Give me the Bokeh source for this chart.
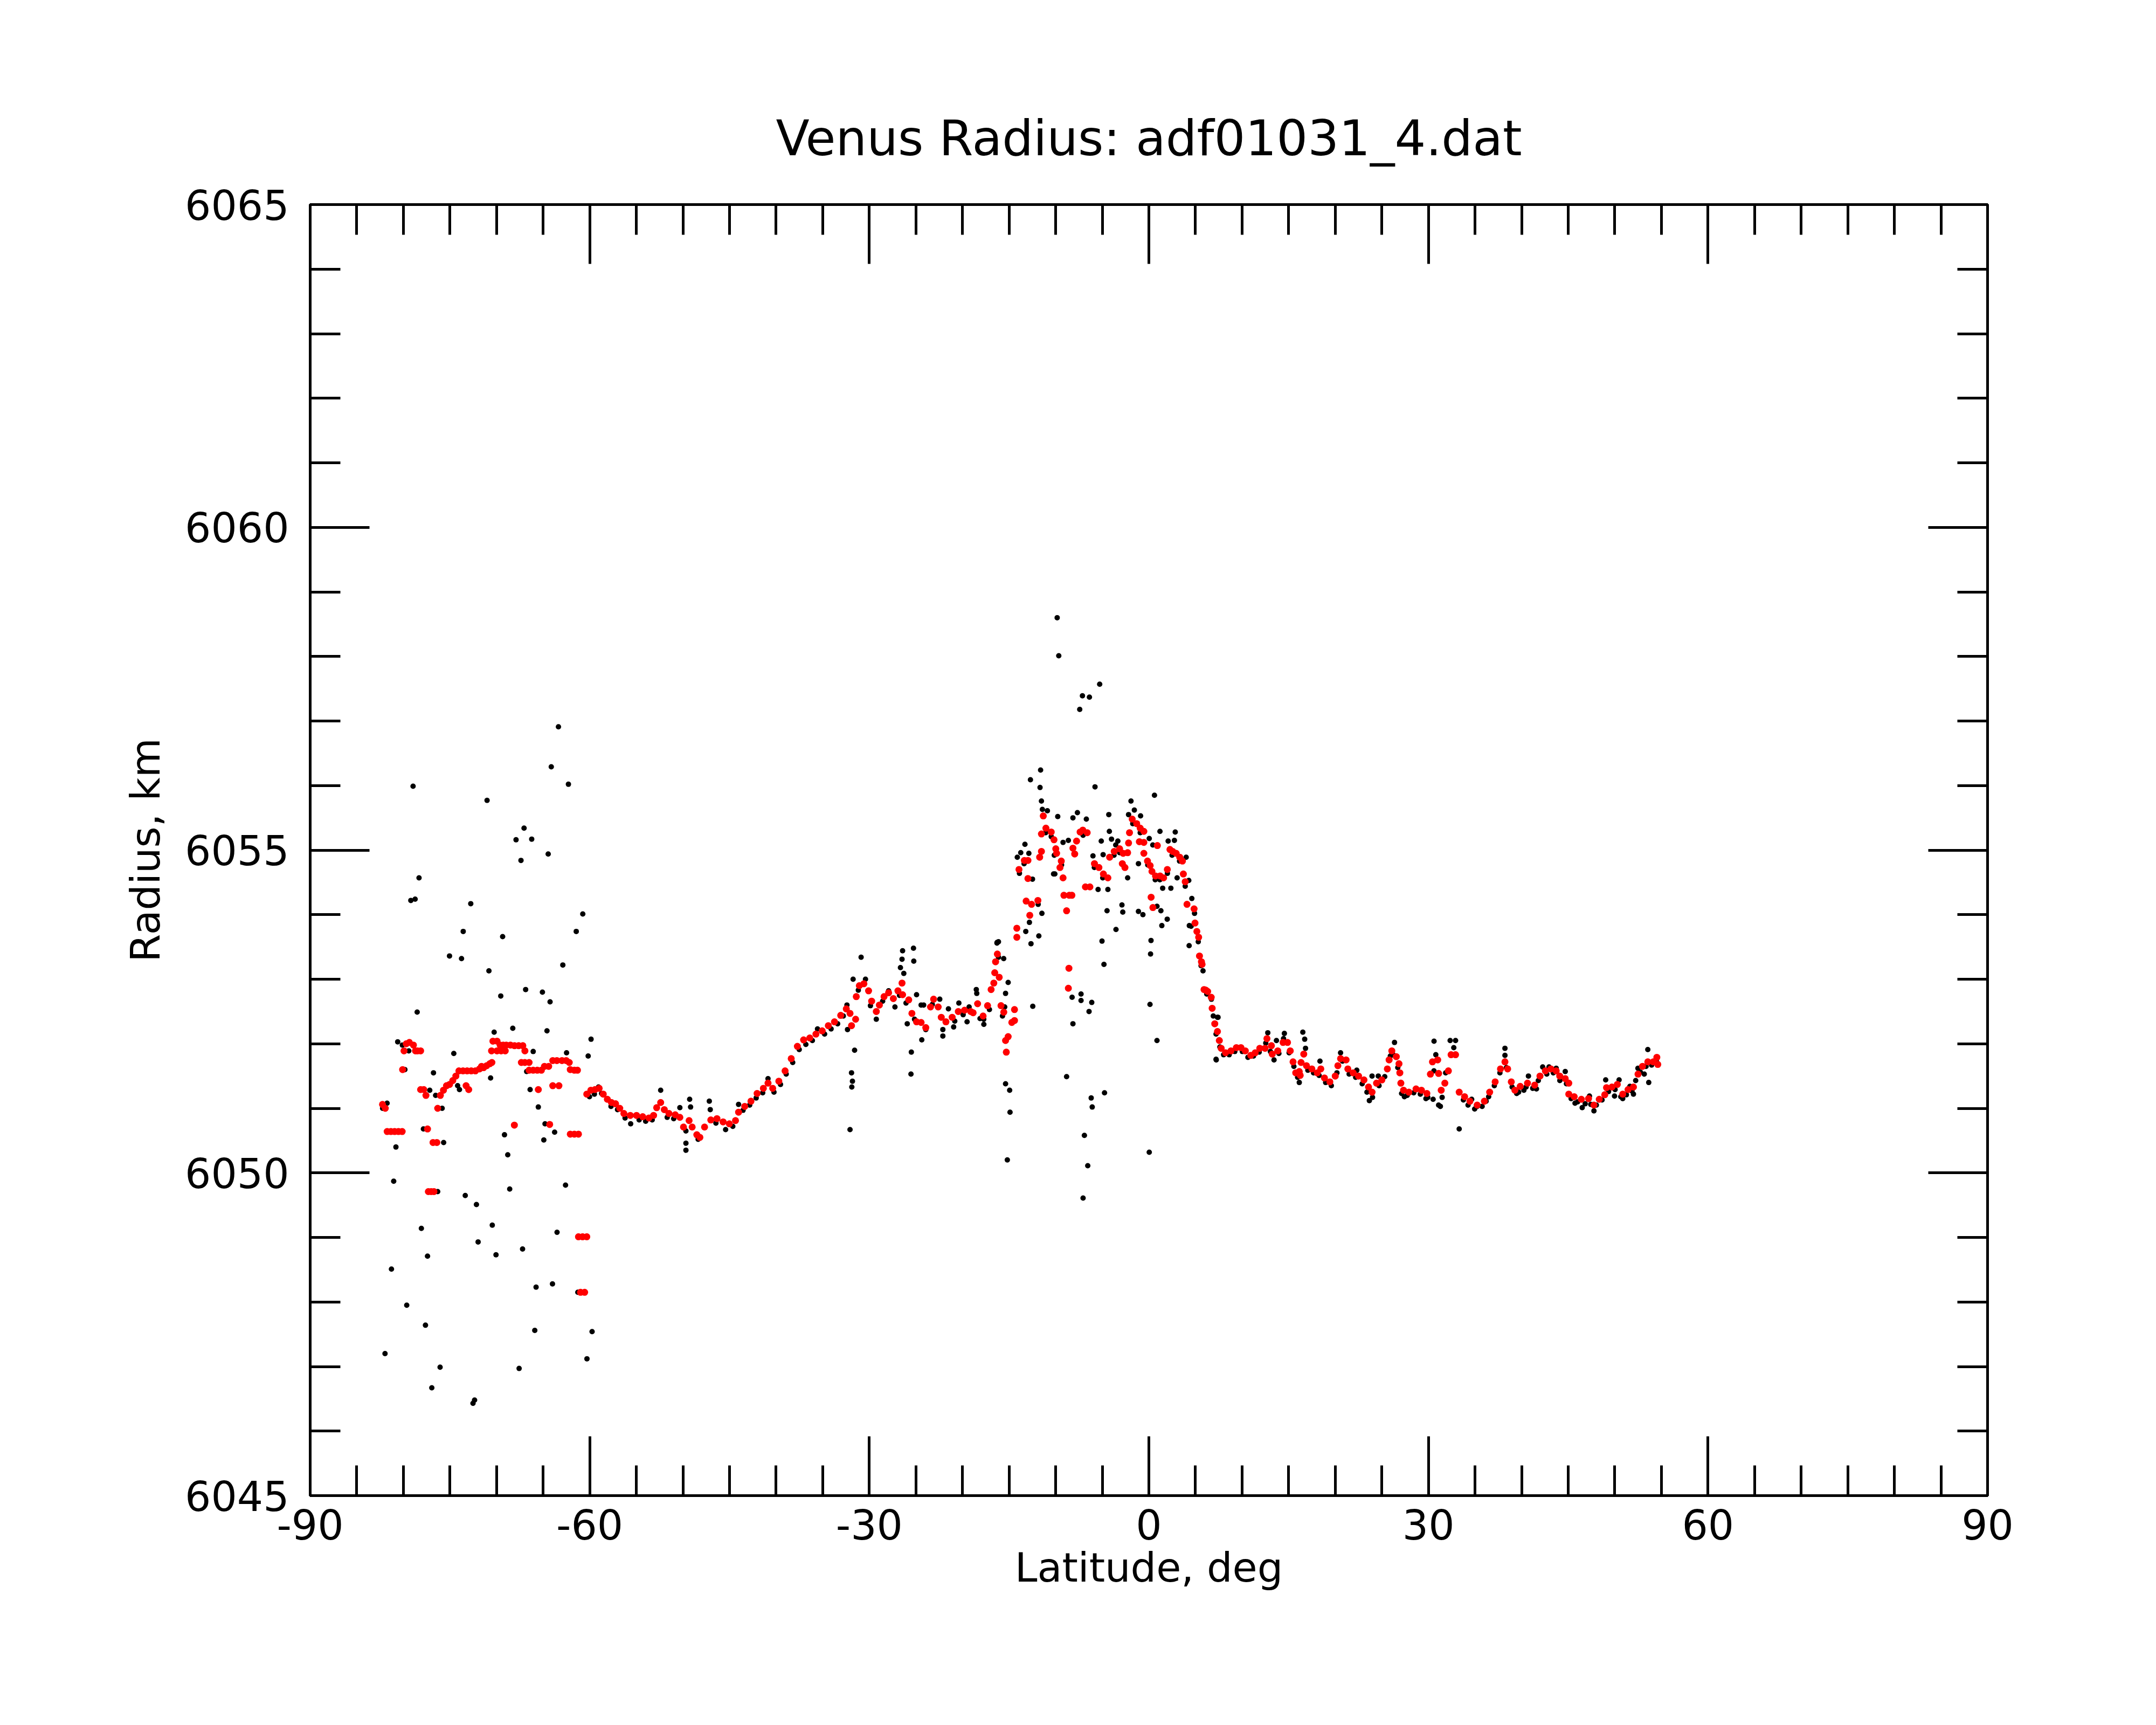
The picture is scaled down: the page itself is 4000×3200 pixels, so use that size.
from bokeh.plotting import figure
from bokeh.models import Range1d, LinearAxis, FixedTicker, ColumnDataSource, CustomJSTickFormatter
from bokeh.embed import file_html
from bokeh.resources import INLINE

# ---------------- data: (latitude deg, radius km) ----------------
black_south_outliers = [
    (-63.36, 6056.91), (-64.13, 6056.29), (-62.29, 6056.02), (-78.96, 6055.99), (-71.02, 6055.77),
    (-67.05, 6055.34), (-67.91, 6055.16), (-66.23, 6055.17), (-67.38, 6054.84), (-64.46, 6054.94),
    (-78.32, 6054.57), (-79.20, 6054.22), (-78.74, 6054.24), (-72.77, 6054.17), (-60.75, 6054.01),
    (-73.58, 6053.74), (-69.35, 6053.66), (-61.45, 6053.74), (-75.05, 6053.36), (-73.76, 6053.32),
    (-62.89, 6053.22), (-70.82, 6053.13), (-69.55, 6052.74), (-66.88, 6052.84), (-65.08, 6052.80),
    (-64.26, 6052.65), (-78.52, 6052.49), (-68.26, 6052.24), (-70.26, 6052.18), (-64.59, 6052.20),
    (-59.86, 6052.07), (-80.61, 6052.03), (-80.11, 6051.98), (-79.42, 6051.89), (-74.59, 6051.85),
    (-60.17, 6051.81), (-62.49, 6051.86), (-66.07, 6051.88), (-79.84, 6051.60), (-76.77, 6051.55),
    (-70.64, 6051.47), (-66.77, 6051.57), (-74.18, 6051.35), (-73.98, 6051.29), (-77.17, 6051.28),
    (-66.40, 6051.29), (-65.52, 6051.02), (-81.75, 6051.08), (-76.54, 6051.20), (-75.84, 6051.00),
    (-77.85, 6050.68), (-64.80, 6050.76), (-63.77, 6050.63), (-64.93, 6050.51), (-80.80, 6050.40),
    (-75.68, 6050.47), (-69.15, 6050.59), (-68.80, 6050.28), (-81.04, 6049.87), (-76.32, 6049.71),
    (-68.59, 6049.75), (-62.60, 6049.81), (-73.36, 6049.65), (-72.16, 6049.51), (-78.07, 6049.14),
    (-70.46, 6049.19), (-63.51, 6049.08), (-71.98, 6048.93), (-70.06, 6048.73), (-67.21, 6048.82),
    (-77.41, 6048.71), (-81.28, 6048.51), (-65.76, 6048.23), (-64.00, 6048.28), (-61.28, 6048.15),
    (-79.64, 6047.95), (-77.63, 6047.64), (-65.90, 6047.56), (-59.75, 6047.54), (-81.97, 6047.20),
    (-60.30, 6047.12), (-76.06, 6046.99), (-67.58, 6046.97), (-76.95, 6046.67), (-72.53, 6046.43),
    (-72.36, 6046.48), (-82.23, 6051.00), (-59.50, 6051.22), (-59.06, 6051.33),
]

black_equator_outliers = [
    (-32.07, 6050.67), (-31.91, 6051.55), (-31.81, 6051.42), (-31.88, 6051.33), (-31.58, 6051.90),
    (-30.88, 6053.34), (-30.41, 6053.00), (-31.74, 6053.00), (-26.43, 6053.44), (-26.49, 6053.31),
    (-26.66, 6053.18), (-26.30, 6053.09), (-25.26, 6053.48), (-25.23, 6053.28), (-25.53, 6051.53),
    (-25.49, 6051.87), (-24.44, 6052.60), (-24.37, 6052.06), (-25.93, 6052.31), (-22.11, 6052.12),
    (-20.95, 6052.26), (-19.51, 6052.34), (-16.14, 6053.58), (-12.82, 6053.88), (-11.81, 6053.67),
    (-12.65, 6053.55), (-13.21, 6053.74), (-11.48, 6054.02), (-10.23, 6054.63),
    (-9.84, 6058.60), (-9.67, 6058.01), (-5.28, 6057.57), (-7.13, 6057.39), (-6.38, 6057.37),
    (-7.42, 6057.18), (-11.62, 6056.24), (-12.71, 6056.09), (-11.68, 6055.97), (-5.78, 6055.98),
    (-11.53, 6055.76), (0.60, 6055.85), (-1.92, 6055.76), (-11.43, 6055.63), (-10.89, 6055.61),
    (-9.78, 6055.52), (-4.30, 6055.55), (-7.67, 6055.58), (-8.15, 6055.50), (-6.71, 6055.48),
    (-2.18, 6055.55), (-1.56, 6055.62), (-0.89, 6055.53), (-13.30, 6055.09), (-14.12, 6054.89),
    (-13.75, 6054.96), (-12.88, 6054.95), (-12.49, 6054.55), (-10.09, 6054.63), (-9.21, 6055.12),
    (-8.64, 6055.15), (-10.15, 6054.92), (-6.00, 6054.91), (-4.91, 6054.93), (-5.11, 6055.14),
    (-4.24, 6055.29), (-4.01, 6055.17), (-3.33, 6055.14), (-3.56, 6055.08), (-1.12, 6054.79),
    (-2.28, 6054.57), (-5.45, 6054.39), (-4.40, 6054.39), (-4.49, 6054.06), (-2.89, 6054.15),
    (-2.80, 6054.04), (-3.53, 6053.77), (-5.03, 6053.59), (-4.82, 6053.23), (0.04, 6055.18),
    (0.42, 6055.08), (1.19, 6055.29), (2.83, 6055.28), (2.07, 6055.14), (2.74, 6055.15),
    (1.48, 6054.41), (2.36, 6054.41), (1.97, 6053.93), (1.39, 6053.83), (0.23, 6053.60),
    (0.18, 6053.39), (1.29, 6054.06), (0.87, 6054.13), (-1.12, 6054.05), (-0.64, 6054.00),
    (3.03, 6054.57), (4.00, 6054.89), (4.28, 6054.53), (4.61, 6054.25), (4.34, 6053.83),
    (4.53, 6053.82), (4.32, 6053.52), (7.42, 6052.41), (7.21, 6051.76), (0.12, 6052.61),
    (0.87, 6052.05), (0.04, 6050.32), (-12.46, 6052.58), (-8.15, 6052.31), (-8.83, 6051.49),
    (-8.24, 6052.72), (-7.28, 6052.77), (-7.28, 6052.67), (-6.13, 6052.64), (-6.42, 6052.50),
    (-6.19, 6051.16), (-6.08, 6051.02), (-4.76, 6051.24), (-6.92, 6050.58), (-6.56, 6050.11),
    (-7.06, 6049.61), (-15.19, 6050.20), (-15.38, 6051.38), (-14.94, 6051.28), (-14.90, 6050.94),
    (-16.29, 6053.57), (-15.58, 6053.32), (-15.10, 6052.95), (-15.38, 6052.78), (-18.47, 6052.78),
    (-17.71, 6052.30),
]

black_north_outliers = [
    (7.36, 6052.41), (7.23, 6051.75), (12.76, 6052.17), (14.54, 6052.16), (13.69, 6052.05),
    (13.43, 6051.75), (16.52, 6052.18), (16.72, 6052.07), (16.81, 6051.93), (16.14, 6051.40),
    (18.36, 6051.73), (20.57, 6051.86), (22.31, 6051.59), (23.66, 6051.12), (23.95, 6051.50),
    (24.62, 6051.50), (26.36, 6052.02), (27.42, 6051.18), (30.60, 6052.04), (30.50, 6051.14),
    (31.09, 6051.05), (30.79, 6051.83), (30.59, 6051.58), (31.28, 6051.03), (31.47, 6051.17),
    (32.33, 6052.05), (32.91, 6052.05), (32.72, 6051.94), (31.85, 6051.55), (33.30, 6050.68),
    (38.21, 6051.93), (38.21, 6051.82), (40.73, 6051.50), (42.26, 6051.64), (42.94, 6051.64),
    (43.71, 6051.62), (44.68, 6051.57), (41.59, 6051.30), (39.47, 6051.23), (40.24, 6051.28),
    (45.73, 6051.08), (46.50, 6051.01), (47.76, 6050.96), (47.28, 6051.19), (49.02, 6051.44),
    (50.46, 6051.44), (49.97, 6051.19), (50.85, 6051.15), (52.00, 6051.22), (51.62, 6051.34),
    (53.54, 6051.91), (53.64, 6051.40), (52.48, 6051.62), (53.16, 6051.53), (34.64, 6051.14),
    (35.23, 6051.03), (36.19, 6051.11), (29.73, 6051.15),
]

black_main_trace = [
    (-60.03, 6051.18), (-58.73, 6051.23), (-57.72, 6051.03), (-57.02, 6050.98), (-56.21, 6050.85),
    (-55.61, 6050.76), (-54.70, 6050.82), (-54.00, 6050.80), (-53.30, 6050.82), (-52.39, 6051.28),
    (-51.69, 6050.86), (-50.99, 6050.84), (-50.33, 6051.01), (-49.68, 6050.65), (-49.68, 6050.46),
    (-49.68, 6050.35), (-49.28, 6051.14), (-49.18, 6051.02), (-48.37, 6050.52), (-47.17, 6051.11),
    (-47.07, 6050.98), (-46.46, 6050.77), (-45.42, 6050.67), (-44.65, 6050.72), (-44.03, 6051.06),
    (-43.55, 6050.97), (-42.84, 6051.05), (-42.14, 6051.16), (-41.44, 6051.24), (-40.87, 6051.46),
    (-40.23, 6051.25), (-39.53, 6051.37), (-38.92, 6051.53), (-38.22, 6051.71), (-37.52, 6051.91),
    (-36.81, 6051.99), (-36.11, 6052.05), (-35.56, 6052.23), (-34.80, 6052.15), (-34.10, 6052.23),
    (-33.40, 6052.31), (-32.79, 6052.43), (-32.40, 6052.60), (-32.34, 6052.22), (-31.18, 6052.83),
    (-29.88, 6052.59), (-29.25, 6052.38), (-28.57, 6052.66), (-27.93, 6052.82), (-27.25, 6052.57),
    (-26.76, 6052.75), (-26.06, 6052.63), (-24.93, 6052.76), (-25.15, 6052.38), (-24.17, 6052.60),
    (-23.94, 6052.22), (-23.24, 6052.61), (-22.44, 6052.69), (-22.11, 6052.22), (-21.51, 6052.54),
    (-20.83, 6052.35), (-20.39, 6052.63), (-19.93, 6052.45), (-19.29, 6052.57), (-18.52, 6052.84),
    (-18.12, 6052.39), (-17.72, 6052.38), (-17.11, 6052.53), (-16.30, 6053.56), (-16.14, 6053.34),
    (-15.47, 6052.57), (-15.71, 6052.43),
    (-13.89, 6054.64), (-13.39, 6054.79), (-11.88, 6054.16), (-11.08, 6055.27), (-10.48, 6055.21),
    (-9.37, 6054.77), (-7.06, 6055.23), (-5.85, 6054.73), (-4.95, 6054.57), (-3.74, 6054.92),
    (-3.14, 6054.96), (-1.73, 6055.41), (-0.93, 6055.27), (-0.12, 6054.77), (0.68, 6054.54),
    (1.18, 6054.54), (1.99, 6054.64), (2.49, 6054.92), (3.29, 6054.83), (3.90, 6054.44),
    (4.90, 6054.02), (5.30, 6053.58), (5.60, 6053.21), (6.71, 6052.69), (7.21, 6052.15),
    (5.81, 6053.13), (6.21, 6052.77), (6.91, 6052.43), (7.62, 6051.95), (8.02, 6051.83),
    (8.62, 6051.83), (9.22, 6051.88), (10.03, 6051.88), (10.63, 6051.79), (11.23, 6051.81),
    (11.84, 6051.87), (12.54, 6052.01), (13.04, 6051.88), (13.95, 6051.85), (14.45, 6052.08),
    (15.05, 6051.86), (15.56, 6051.65), (15.96, 6051.48), (17.06, 6051.59), (17.67, 6051.55),
    (18.27, 6051.51), (18.97, 6051.40), (19.58, 6051.35), (20.18, 6051.55), (20.78, 6051.73),
    (21.49, 6051.53), (22.19, 6051.48), (22.89, 6051.38), (23.40, 6051.25), (24.00, 6051.17),
    (24.70, 6051.35), (25.31, 6051.49), (25.91, 6051.81), (26.21, 6051.83), (26.71, 6051.63),
    (27.12, 6051.23), (27.72, 6051.20), (28.42, 6051.24), (29.13, 6051.22), (29.93, 6051.17),
    (33.75, 6051.13), (34.25, 6051.05), (34.96, 6050.99), (35.76, 6051.03), (36.46, 6051.18),
    (37.07, 6051.35), (37.67, 6051.55), (38.37, 6051.63), (38.98, 6051.33), (39.68, 6051.25),
    (40.48, 6051.33), (41.19, 6051.31), (41.79, 6051.43), (42.70, 6051.53), (43.40, 6051.55),
    (44.10, 6051.43), (44.81, 6051.38), (45.31, 6051.15), (46.01, 6051.10), (46.82, 6051.07),
    (47.42, 6051.06), (48.02, 6051.05), (48.63, 6051.13), (49.33, 6051.26), (50.03, 6051.29),
    (50.64, 6051.18), (51.24, 6051.21), (51.84, 6051.27), (52.24, 6051.43), (52.75, 6051.56),
    (53.35, 6051.65), (53.95, 6051.67), (54.46, 6051.73),
]

red_south_scatter = [
    (-82.24, 6051.06), (-81.94, 6051.00), (-81.74, 6050.64), (-81.34, 6050.64), (-80.94, 6050.64),
    (-80.53, 6050.64), (-80.13, 6050.64), (-80.08, 6051.60), (-79.93, 6051.89), (-79.69, 6052.00),
    (-79.36, 6052.02), (-78.92, 6051.98), (-78.70, 6051.89), (-78.48, 6051.89), (-78.15, 6051.89),
    (-78.15, 6051.29), (-77.81, 6051.29), (-77.58, 6051.20), (-77.41, 6050.68), (-77.32, 6049.71),
    (-77.02, 6049.71), (-76.72, 6049.71), (-76.82, 6050.47), (-76.41, 6050.47), (-76.32, 6051.00),
    (-76.03, 6051.20), (-75.70, 6051.28), (-75.37, 6051.35), (-75.04, 6051.37), (-74.70, 6051.43),
    (-74.37, 6051.50), (-74.04, 6051.58), (-73.60, 6051.58), (-73.16, 6051.58), (-72.72, 6051.58),
    (-72.27, 6051.58), (-71.83, 6051.61), (-71.61, 6051.65), (-71.39, 6051.63), (-71.06, 6051.66),
    (-70.73, 6051.69), (-70.50, 6051.71), (-73.27, 6051.35), (-72.99, 6051.29), (-70.54, 6051.89),
    (-70.39, 6052.04), (-69.95, 6052.04), (-69.62, 6051.98), (-69.29, 6051.98), (-68.96, 6051.98),
    (-68.51, 6051.98), (-68.07, 6051.97), (-67.63, 6051.97), (-67.18, 6051.97), (-66.96, 6051.89),
    (-69.95, 6051.89), (-69.51, 6051.89), (-69.07, 6051.89), (-68.09, 6050.74), (-67.34, 6051.71),
    (-66.96, 6051.71), (-66.51, 6051.71), (-66.51, 6051.59), (-66.07, 6051.59), (-65.63, 6051.59),
    (-65.19, 6051.59), (-64.86, 6051.65), (-64.41, 6051.65), (-65.52, 6051.29), (-64.30, 6050.75),
    (-63.97, 6051.35), (-63.31, 6051.35), (-63.97, 6051.74), (-63.53, 6051.74), (-62.98, 6051.74),
    (-62.53, 6051.74), (-62.20, 6051.71), (-62.09, 6051.60), (-61.65, 6051.59), (-61.32, 6051.59),
    (-62.09, 6050.60), (-61.65, 6050.60), (-61.21, 6050.60), (-61.21, 6049.01), (-60.77, 6049.01),
    (-60.32, 6049.01), (-60.99, 6048.15), (-60.55, 6048.15),
]

red_main_south = [
    (-60.32, 6051.22), (-59.88, 6051.28), (-59.44, 6051.29), (-58.99, 6051.31), (-58.55, 6051.22),
    (-58.11, 6051.14), (-57.67, 6051.09), (-57.23, 6051.07), (-56.78, 6051.00), (-56.34, 6050.92),
    (-55.65, 6050.89), (-54.98, 6050.89), (-54.32, 6050.87), (-53.65, 6050.85), (-53.15, 6050.89),
    (-52.82, 6051.01), (-52.39, 6051.09), (-52.00, 6050.98), (-51.50, 6050.92), (-50.83, 6050.90),
    (-50.33, 6050.86), (-49.94, 6050.71), (-49.34, 6050.81), (-49.01, 6050.71), (-48.51, 6050.59),
    (-48.18, 6050.55), (-47.68, 6050.71), (-47.01, 6050.82), (-46.35, 6050.84), (-45.69, 6050.79),
    (-45.02, 6050.76), (-44.36, 6050.81), (-44.03, 6050.94), (-43.37, 6051.03), (-42.70, 6051.11),
    (-42.04, 6051.23), (-41.37, 6051.31), (-40.87, 6051.39), (-40.37, 6051.31), (-39.71, 6051.42),
    (-39.04, 6051.58), (-38.38, 6051.77), (-37.72, 6051.96), (-37.05, 6052.06), (-36.39, 6052.09),
    (-35.73, 6052.15), (-35.06, 6052.20), (-34.40, 6052.28), (-33.74, 6052.34), (-33.07, 6052.44),
    (-32.47, 6052.54), (-32.07, 6052.47), (-31.91, 6052.28), (-31.47, 6052.38), (-31.40, 6052.73),
    (-31.07, 6052.90), (-30.58, 6052.93), (-30.08, 6052.82), (-29.75, 6052.66), (-29.25, 6052.50),
    (-28.92, 6052.60), (-28.42, 6052.73), (-27.93, 6052.79), (-27.42, 6052.70), (-26.93, 6052.82),
    (-26.49, 6052.94), (-26.43, 6052.76), (-25.77, 6052.68), (-25.43, 6052.47), (-24.93, 6052.34),
    (-24.44, 6052.33), (-23.94, 6052.25), (-23.43, 6052.57), (-23.10, 6052.69), (-22.61, 6052.57),
    (-22.28, 6052.41), (-21.78, 6052.34), (-21.11, 6052.41), (-20.45, 6052.50), (-19.78, 6052.52),
    (-19.12, 6052.50), (-18.86, 6052.48), (-18.38, 6052.62), (-17.79, 6052.43), (-17.31, 6052.59),
    (-16.93, 6052.84), (-16.64, 6052.94), (-16.54, 6053.10), (-16.45, 6053.27), (-16.26, 6053.39),
    (-16.06, 6053.03), (-15.87, 6052.59), (-15.57, 6052.49), (-15.38, 6052.05), (-15.10, 6052.11),
    (-15.30, 6051.87), (-14.71, 6052.33), (-14.42, 6052.53), (-14.42, 6052.36),
]

red_equator = [
    (-14.17, 6053.79), (-14.17, 6053.65), (-13.94, 6054.70), (-13.36, 6054.84), (-12.98, 6054.84),
    (-12.98, 6054.56), (-13.17, 6054.21), (-12.59, 6054.16), (-11.91, 6054.22), (-12.78, 6053.99),
    (-11.53, 6054.98), (-11.72, 6054.89), (-11.33, 6055.53), (-11.53, 6055.25), (-11.05, 6055.34),
    (-10.48, 6055.28), (-10.18, 6055.16), (-9.99, 6055.02), (-9.90, 6054.95), (-9.40, 6054.83),
    (-9.54, 6054.73), (-9.21, 6054.57), (-9.12, 6054.30), (-8.54, 6054.30), (-8.26, 6054.30),
    (-8.83, 6054.06), (-8.58, 6053.17), (-8.64, 6052.86), (-7.96, 6054.94), (-8.15, 6055.03),
    (-7.76, 6055.14), (-7.09, 6055.31), (-7.38, 6055.28), (-6.62, 6055.27), (-6.81, 6054.43),
    (-6.33, 6054.43), (-5.84, 6054.79), (-5.36, 6054.73), (-4.88, 6054.63), (-4.40, 6054.57),
    (-4.21, 6054.89), (-3.72, 6054.98), (-3.14, 6055.02), (-2.76, 6054.95), (-2.28, 6054.96),
    (-2.85, 6054.79), (-2.57, 6054.73), (-2.18, 6055.11), (-2.08, 6055.27), (-1.79, 6055.48),
    (-1.31, 6055.41), (-0.93, 6055.34), (-0.54, 6055.29), (-1.02, 6055.13), (-0.54, 6055.12),
    (-0.54, 6054.95), (-0.15, 6054.83), (0.14, 6054.76), (0.33, 6054.67), (0.71, 6054.60),
    (1.20, 6054.60), (1.58, 6054.57), (1.98, 6054.70), (0.24, 6054.27), (0.43, 6054.11),
    (0.91, 6055.07), (2.26, 6055.01), (2.55, 6054.98), (2.93, 6054.95), (3.31, 6054.89),
    (3.60, 6054.83), (3.70, 6054.63), (3.90, 6054.51), (4.09, 6054.16), (4.85, 6054.09),
    (4.95, 6053.87), (5.15, 6053.74), (5.34, 6053.65), (5.43, 6053.36), (5.64, 6053.27),
    (5.71, 6053.23),
]

red_main_north = [
    (5.92, 6052.84), (6.11, 6052.83), (6.31, 6052.81), (6.69, 6052.72), (6.79, 6052.55),
    (7.07, 6052.31), (7.36, 6052.19), (7.56, 6052.05), (7.76, 6051.93), (8.23, 6051.86),
    (8.81, 6051.89), (9.39, 6051.94), (9.88, 6051.94), (10.35, 6051.89), (10.93, 6051.82),
    (11.41, 6051.86), (11.90, 6051.93), (12.47, 6051.93), (12.67, 6052.08), (13.15, 6051.97),
    (13.24, 6051.84), (13.83, 6051.89), (14.40, 6052.02), (14.88, 6052.02), (15.17, 6051.89),
    (15.47, 6051.72), (15.76, 6051.55), (16.24, 6051.51), (16.14, 6051.57), (16.33, 6051.71),
    (16.62, 6051.84), (16.91, 6051.66), (17.49, 6051.61), (18.07, 6051.55), (18.45, 6051.61),
    (18.84, 6051.47), (19.42, 6051.41), (20.00, 6051.50), (20.28, 6051.66), (20.57, 6051.77),
    (21.16, 6051.75), (21.35, 6051.61), (21.92, 6051.55), (22.50, 6051.50), (23.08, 6051.44),
    (23.57, 6051.33), (23.95, 6051.25), (24.43, 6051.39), (25.00, 6051.44), (25.59, 6051.61),
    (25.78, 6051.75), (26.07, 6051.89), (26.55, 6051.80), (26.84, 6051.69), (26.93, 6051.55),
    (27.04, 6051.39), (27.33, 6051.28), (27.90, 6051.25), (28.67, 6051.30), (29.25, 6051.28),
    (29.83, 6051.23), (30.21, 6051.53), (30.43, 6051.72), (30.99, 6051.75), (31.09, 6051.54),
    (31.37, 6051.28), (31.76, 6051.39), (32.14, 6051.58), (32.43, 6051.83), (32.91, 6051.83),
    (33.30, 6051.25), (33.88, 6051.18), (34.45, 6051.11), (35.23, 6051.05), (36.00, 6051.11),
    (36.57, 6051.25), (37.16, 6051.41), (37.73, 6051.61), (38.21, 6051.72), (38.50, 6051.61),
    (38.89, 6051.41), (39.28, 6051.28), (39.85, 6051.34), (40.63, 6051.39), (41.40, 6051.36),
    (41.97, 6051.50), (42.55, 6051.58), (43.14, 6051.61), (43.71, 6051.58), (44.09, 6051.50),
    (44.68, 6051.46), (45.06, 6051.39), (45.06, 6051.22), (45.64, 6051.18), (46.41, 6051.14),
    (47.18, 6051.15), (47.76, 6051.05), (48.33, 6051.14), (48.92, 6051.21), (49.11, 6051.32),
    (49.69, 6051.33), (50.27, 6051.37), (50.85, 6051.22), (51.42, 6051.29), (52.00, 6051.33),
    (52.49, 6051.53), (52.97, 6051.65), (53.54, 6051.72), (54.13, 6051.72), (54.51, 6051.79),
    (54.61, 6051.68),
]

x_major = [-90, -60, -30, 0, 30, 60, 90]
x_minor = list(range(-90, 91, 5))
y_major = [6045, 6050, 6055, 6060, 6065]
y_minor = list(range(6045, 6066, 1))

title_text = "Venus Radius: adf01031_4.dat"
x_title = "Latitude, deg"
y_title = "Radius, km"

# ---------------- figure ----------------
FONT = "DejaVu Sans"

p = figure(width=3984, height=3184, output_backend="svg", toolbar_location=None,
           x_range=Range1d(-90, 90), y_range=Range1d(6045, 6065),
           min_border_left=575, min_border_right=297, min_border_top=379, min_border_bottom=410,
           x_axis_location=None, y_axis_location=None)
p.grid.visible = False
p.background_fill_color = "white"
p.border_fill_color = "white"
p.outline_line_color = "black"
p.outline_line_width = 5

p.title.text = title_text
p.title.align = "center"
p.title.text_font = FONT
p.title.text_font_size = "91px"
p.title.text_font_style = "normal"
p.title.text_color = "black"
p.title.standoff = 141


def style(ax, ticks, minor, show_labels):
    ax.ticker = FixedTicker(ticks=ticks, minor_ticks=minor)
    ax.formatter = CustomJSTickFormatter(code="return tick.toFixed(0);")
    ax.axis_line_width = 5
    ax.axis_line_color = "black"
    ax.major_tick_line_width = 5
    ax.minor_tick_line_width = 5
    ax.major_tick_line_color = "black"
    ax.minor_tick_line_color = "black"
    ax.major_tick_in = 110
    ax.major_tick_out = 0
    ax.minor_tick_in = 56
    ax.minor_tick_out = 0
    ax.major_label_text_font = FONT
    if show_labels:
        ax.major_label_text_font_size = "76px"
        ax.major_label_text_color = "black"
    else:
        ax.major_label_text_font_size = "0px"
        ax.major_label_text_color = None
        ax.major_label_text_alpha = 0
        ax.major_label_standoff = 0
    ax.axis_label_text_font = FONT
    ax.axis_label_text_font_size = "75px"
    ax.axis_label_text_font_style = "normal"
    ax.axis_label_text_color = "black"


xb = LinearAxis(axis_label=x_title)
style(xb, x_major, x_minor, True)
xb.major_label_standoff = 25
xb.axis_label_standoff = 5
p.add_layout(xb, "below")

yl = LinearAxis(axis_label=y_title)
style(yl, y_major, y_minor, True)
yl.major_label_standoff = 39
yl.axis_label_standoff = 26
p.add_layout(yl, "left")

xt = LinearAxis()
style(xt, x_major, x_minor, False)
p.add_layout(xt, "above")

yr = LinearAxis()
style(yr, y_major, y_minor, False)
p.add_layout(yr, "right")


def src(*groups):
    lat, rad = [], []
    for g in groups:
        for a, b in g:
            lat.append(a)
            rad.append(b)
    return ColumnDataSource(dict(lat=lat, rad=rad))


black_src = src(black_south_outliers, black_equator_outliers, black_north_outliers, black_main_trace)
red_src = src(red_south_scatter, red_main_south, red_equator, red_main_north)

p.scatter("lat", "rad", source=black_src, marker="circle", size=10,
          fill_color="black", line_color=None)
p.scatter("lat", "rad", source=red_src, marker="circle", size=13,
          fill_color="red", line_color=None)

open("out.html", "w").write(file_html(p, INLINE, title="Venus Radius"))
